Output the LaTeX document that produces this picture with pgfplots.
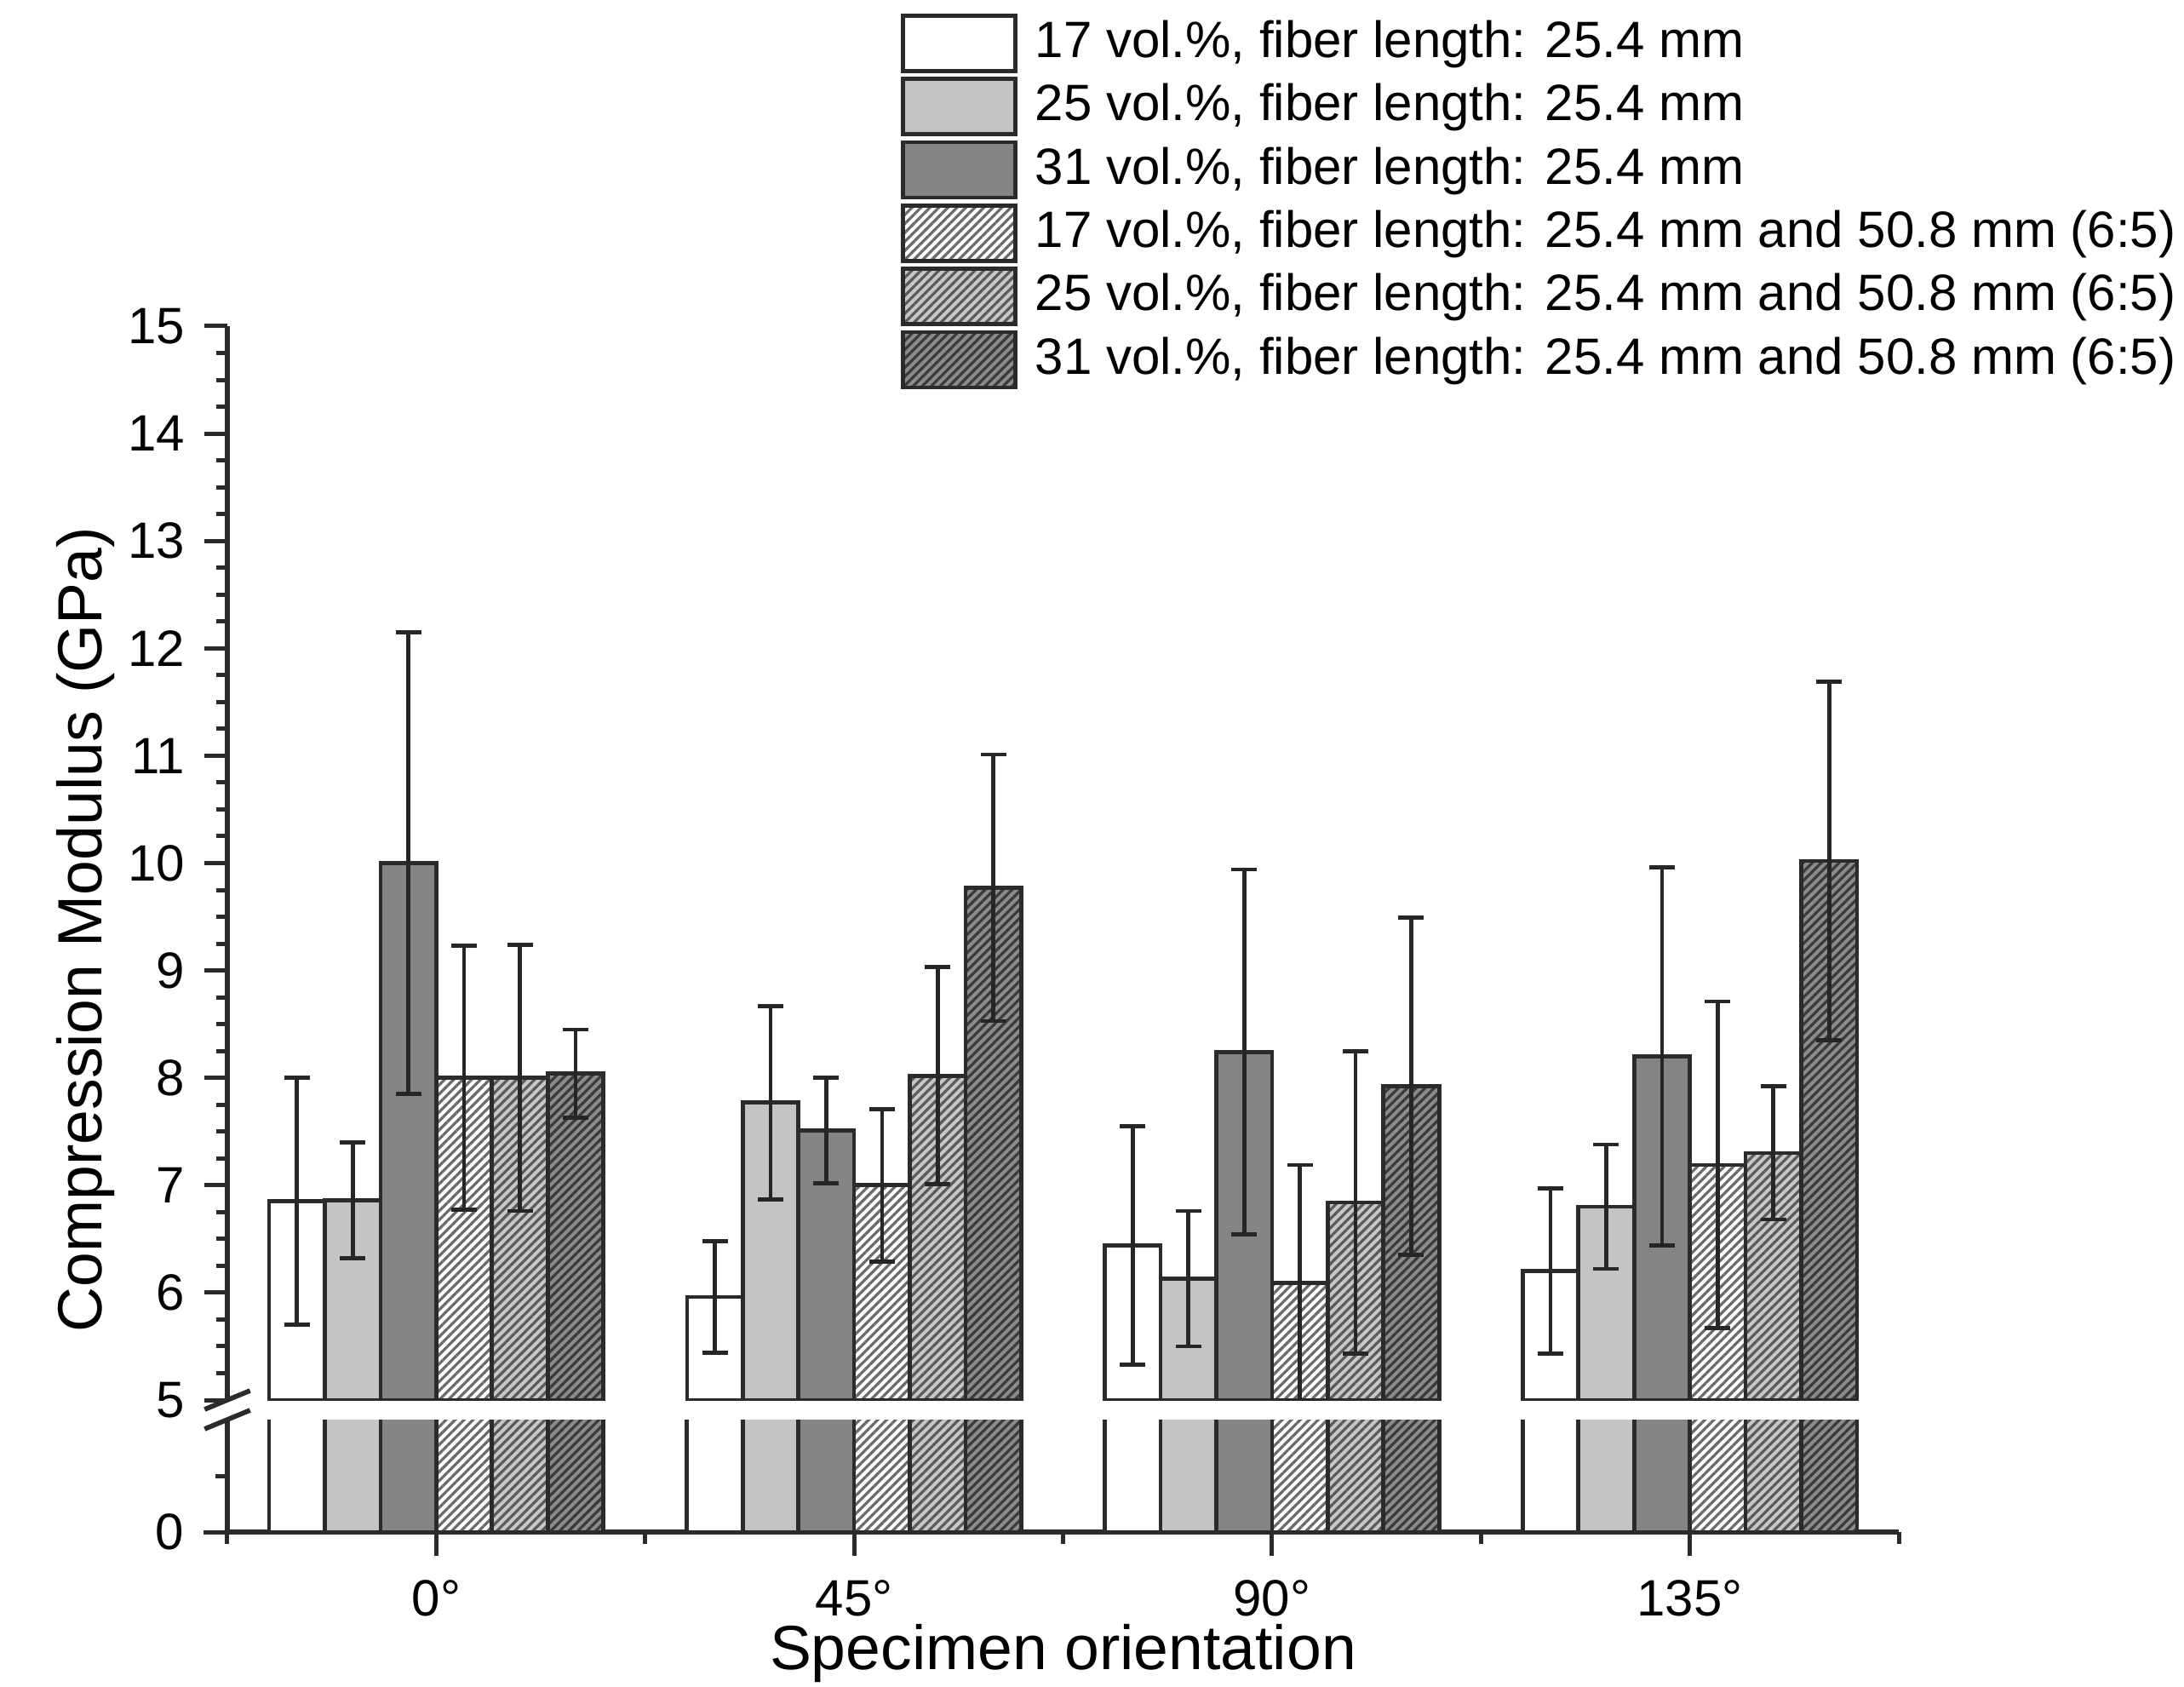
\documentclass[border=0pt]{standalone}
\usepackage{fontspec}
\setmainfont{Liberation Sans}
\usepackage{pgfplots}
\pgfplotsset{compat=1.18}
\usepackage{pgfplotstable}
\usetikzlibrary{patterns.meta}

\definecolor{cLight}{HTML}{C4C4C4}
\definecolor{cDark}{HTML}{858585}
\definecolor{cLine}{HTML}{2B2B2B}
\definecolor{hatchW}{HTML}{6A6A6A}
\definecolor{hatchL}{HTML}{5A5A5A}
\definecolor{hatchD}{HTML}{3A3A3A}
\definecolor{errC}{HTML}{262626}

% x = orientation index (0:0deg,1:45deg,2:90deg,3:135deg), y = modulus (GPa), e = std dev
\pgfplotstableread{
x y e
0 6.85 1.15
1 5.96 0.52
2 6.44 1.11
3 6.20 0.77
}\sA
\pgfplotstableread{
x y e
0 6.86 0.54
1 7.77 0.90
2 6.13 0.63
3 6.80 0.58
}\sB
\pgfplotstableread{
x y e
0 10.00 2.15
1 7.51 0.49
2 8.24 1.70
3 8.20 1.76
}\sC
\pgfplotstableread{
x y e
0 8.00 1.23
1 7.00 0.71
2 6.09 1.10
3 7.19 1.52
}\sD
\pgfplotstableread{
x y e
0 8.00 1.24
1 8.02 1.01
2 6.84 1.41
3 7.30 0.62
}\sE
\pgfplotstableread{
x y e
0 8.04 0.41
1 9.77 1.24
2 7.92 1.57
3 10.02 1.67
}\sF

\pgfplotsset{
  barbase/.style={ybar, draw=cLine, line width=0.7pt, bar width=0.13333, bar shift=0},
  legbox/.style={legend image code/.code={\draw[##1,/tikz/.cd] (0pt,-4.875pt) rectangle (19.8pt,4.875pt);}},
  s1/.style={barbase, fill=white},
  s2/.style={barbase, fill=cLight},
  s3/.style={barbase, fill=cDark},
  s4/.style={barbase, fill=white, postaction={pattern color=hatchW, pattern={Lines[angle=45,distance=1.12pt,line width=0.48pt]}}},
  s5/.style={barbase, fill=cLight!95!white, postaction={pattern color=hatchL, pattern={Lines[angle=45,distance=1.12pt,line width=0.48pt]}}},
  s6/.style={barbase, fill=cDark!95!white, postaction={pattern color=hatchD, pattern={Lines[angle=45,distance=1.12pt,line width=0.48pt]}}},
  errb/.style={error bars/.cd, y dir=both, y explicit,
     error bar style={line width=0.7pt, color=errC},
     error mark options={rotate=90, line width=0.7pt, mark size=2.25pt, color=errC}},
}

\begin{document}
\begin{tikzpicture}
\path[use as bounding box] (0,0) rectangle (384.75pt,297pt);

% ---------- upper part (5 to 15) ----------
\begin{axis}[
  at={(40.05pt,50.4pt)}, anchor=south west, scale only axis,
  width=294.45pt, height=189.15pt,
  xmin=-0.5, xmax=3.5, ymin=5, ymax=15,
  axis y line*=left, axis x line=none,
  xtick=\empty,
  ytick={5,6,...,15}, minor y tick num=3,
  tick align=outside,
  major tick length=4pt, minor tick length=2pt,
  axis line style={line width=0.85pt, draw=cLine},
  tick style={line width=0.75pt, color=cLine},
  /pgf/number format/assume math mode=true,
  tick label style={font=\fontsize{9}{10}\selectfont},
  ylabel={Compression Modulus (GPa)},
  ylabel style={at={(axis description cs:-0.0846,0.438)}, anchor=center, font=\fontsize{11}{13}\selectfont},
  legend style={draw=none, fill=none, at={(axis description cs:0.403,1.291)}, anchor=north west,
     inner sep=0pt, outer sep=0pt, row sep=0.7pt, column sep=3.15pt,
     font=\fontsize{9}{10}\selectfont, nodes={inner sep=0pt}},
  legend cell align=left,
]
\addplot[s1, legbox, errb] table[x expr=\thisrow{x}-0.33333, y=y, y error=e]{\sA};
\addlegendentry{17 vol.\%, fiber length: 25.4 mm}
\addplot[s2, legbox, errb] table[x expr=\thisrow{x}-0.2, y=y, y error=e]{\sB};
\addlegendentry{25 vol.\%, fiber length: 25.4 mm}
\addplot[s3, legbox, errb] table[x expr=\thisrow{x}-0.066667, y=y, y error=e]{\sC};
\addlegendentry{31 vol.\%, fiber length: 25.4 mm}
\addplot[s4, legbox, errb] table[x expr=\thisrow{x}+0.066667, y=y, y error=e]{\sD};
\addlegendentry{17 vol.\%, fiber length: 25.4 mm and 50.8 mm (6:5)}
\addplot[s5, legbox, errb] table[x expr=\thisrow{x}+0.2, y=y, y error=e]{\sE};
\addlegendentry{25 vol.\%, fiber length: 25.4 mm and 50.8 mm (6:5)}
\addplot[s6, legbox, errb] table[x expr=\thisrow{x}+0.33333, y=y, y error=e]{\sF};
\addlegendentry{31 vol.\%, fiber length: 25.4 mm and 50.8 mm (6:5)}
\end{axis}

% ---------- lower part (0 to 5) ----------
\begin{axis}[
  at={(40.05pt,27.15pt)}, anchor=south west, scale only axis,
  width=294.45pt, height=19.8pt,
  xmin=-0.5, xmax=3.5, ymin=0, ymax=5,
  axis y line*=left, axis x line*=bottom,
  xtick={0,1,2,3}, xticklabels={0°,45°,90°,135°},
  minor xtick={-0.5,0.5,1.5,2.5,3.5},
  ytick={0}, minor ytick={2.5},
  tick align=outside,
  major tick length=4.2pt, minor tick length=2.1pt,
  axis line style={line width=0.85pt, draw=cLine},
  tick style={line width=0.75pt, color=cLine},
  /pgf/number format/assume math mode=true,
  tick label style={font=\fontsize{9}{10}\selectfont},
  xticklabel style={yshift=-0.8pt},
  xlabel={Specimen orientation},
  xlabel style={at={(axis description cs:0.5,-1.22)}, anchor=base, font=\fontsize{11}{13}\selectfont},
]
\addplot[s1] table[x expr=\thisrow{x}-0.33333, y=y]{\sA};
\addplot[s2] table[x expr=\thisrow{x}-0.2, y=y]{\sB};
\addplot[s3] table[x expr=\thisrow{x}-0.066667, y=y]{\sC};
\addplot[s4] table[x expr=\thisrow{x}+0.066667, y=y]{\sD};
\addplot[s5] table[x expr=\thisrow{x}+0.2, y=y]{\sE};
\addplot[s6] table[x expr=\thisrow{x}+0.33333, y=y]{\sF};
\end{axis}

% axis break marks
\draw[line width=0.85pt, cLine] (36.05pt,48.75pt) -- (44.05pt,52.05pt);
\draw[line width=0.85pt, cLine] (36.05pt,45.3pt) -- (44.05pt,48.6pt);
\end{tikzpicture}
\end{document}
